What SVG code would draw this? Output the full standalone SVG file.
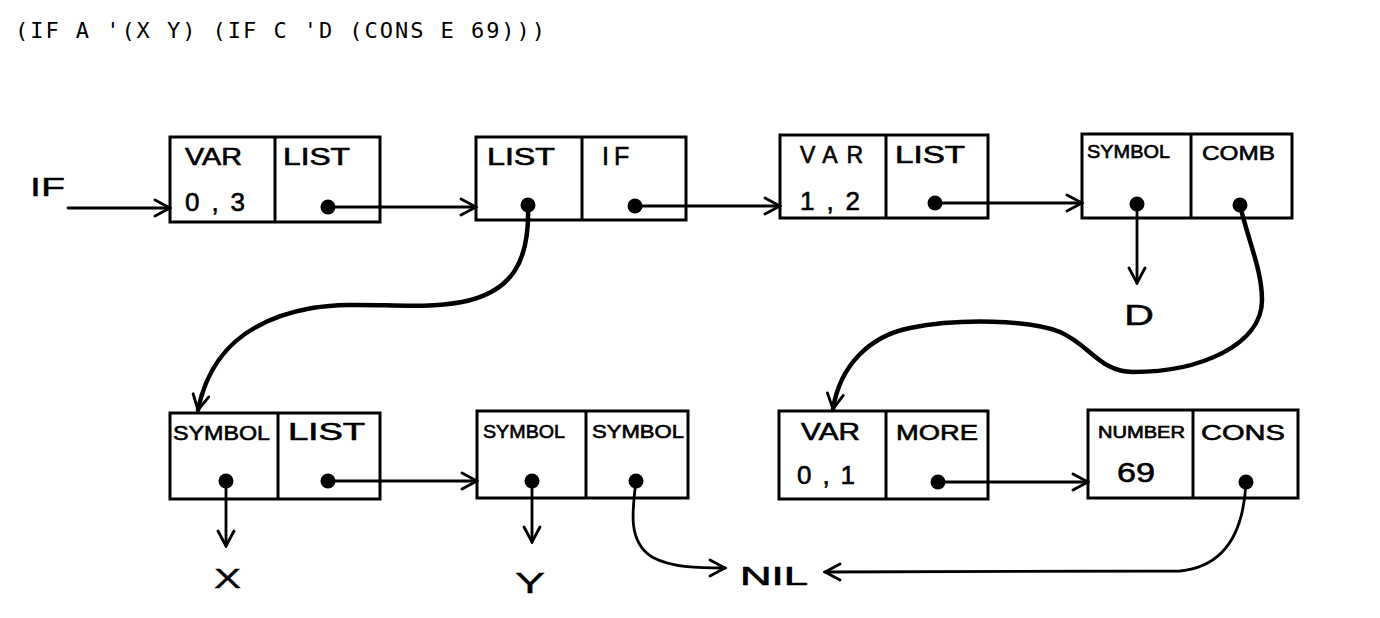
<svg xmlns="http://www.w3.org/2000/svg" width="1380" height="618" viewBox="0 0 1380 618">
<style>
.box{fill:#fff;stroke:#000;stroke-width:3}
.div{stroke:#000;stroke-width:3}
.lbl{font-family:"Liberation Sans",Arial,sans-serif;font-size:23px;fill:#000;stroke:#000;stroke-width:0.6}
.sm{font-size:18px}
.xs{font-size:16px}
.big{font-family:"Liberation Sans",Arial,sans-serif;font-size:30px;fill:#000;stroke:#000;stroke-width:0.4}
.title{font-family:"DejaVu Sans Mono","Liberation Mono",monospace;font-size:22px;fill:#000}
.ln{fill:none;stroke:#000;stroke-width:2.8;stroke-linecap:round}
.thick{fill:none;stroke:#000;stroke-width:4.5;stroke-linecap:round}
.dot{fill:#000}
</style>
<defs>
<marker id="ah" viewBox="0 0 20 20" refX="18" refY="10" markerWidth="20" markerHeight="20" markerUnits="userSpaceOnUse" orient="auto">
<path d="M3,2 L18,10 L3,18" fill="none" stroke="#000" stroke-width="2.8" stroke-linecap="round"/>
</marker>
</defs>
<rect width="1380" height="618" fill="#fff"/>
<text class="title" x="15" y="38" textLength="530" lengthAdjust="spacing">(IF A '(X Y) (IF C 'D (CONS E 69)))</text>

<g id="in-if">
<text class="big" x="30" y="196" textLength="35" lengthAdjust="spacingAndGlyphs" style="font-size:26px">IF</text>
</g>

<g id="n1">
<rect class="box" x="170" y="137" width="210" height="85"/>
<line class="div" x1="275" y1="137" x2="275" y2="222"/>
<text class="lbl" x="185" y="165" textLength="57" lengthAdjust="spacingAndGlyphs">VAR</text>
<text class="lbl" x="185" y="211" textLength="60" lengthAdjust="spacing" style="font-size:26px">0,3</text>
<text class="lbl" x="283" y="165" textLength="67" lengthAdjust="spacingAndGlyphs">LIST</text>
<circle class="dot" cx="328" cy="207" r="7.5"/>
</g>

<g id="n2">
<rect class="box" x="476" y="137" width="210" height="83"/>
<line class="div" x1="582" y1="137" x2="582" y2="220"/>
<text class="lbl" x="487" y="165" textLength="68" lengthAdjust="spacingAndGlyphs">LIST</text>
<text class="lbl" x="602" y="165" style="font-size:25px;letter-spacing:5px">IF</text>
<circle class="dot" cx="528" cy="205" r="7.5"/>
<circle class="dot" cx="635" cy="206" r="7.5"/>
</g>

<g id="n3">
<rect class="box" x="780" y="135" width="208" height="83"/>
<line class="div" x1="886" y1="135" x2="886" y2="218"/>
<text class="lbl" x="800" y="163" textLength="63" lengthAdjust="spacing">VAR</text>
<text class="lbl" x="800" y="210" textLength="60" lengthAdjust="spacing" style="font-size:26px">1,2</text>
<text class="lbl" x="895" y="163" textLength="70" lengthAdjust="spacingAndGlyphs">LIST</text>
<circle class="dot" cx="935" cy="203" r="7.5"/>
</g>

<g id="n4">
<rect class="box" x="1082" y="134" width="210" height="84"/>
<line class="div" x1="1191" y1="134" x2="1191" y2="218"/>
<text class="lbl sm" x="1087" y="158" textLength="83" lengthAdjust="spacingAndGlyphs">SYMBOL</text>
<text class="lbl" x="1202" y="160" textLength="73" lengthAdjust="spacingAndGlyphs" style="font-size:21px">COMB</text>
<circle class="dot" cx="1137" cy="204" r="7.5"/>
<circle class="dot" cx="1240" cy="205" r="7.5"/>
</g>

<g id="lbl-d">
<text class="big" x="1124" y="325" textLength="30" lengthAdjust="spacingAndGlyphs">D</text>
</g>

<g id="n5">
<rect class="box" x="170" y="413" width="210" height="86"/>
<line class="div" x1="278" y1="413" x2="278" y2="499"/>
<text class="lbl" x="173" y="440" textLength="97" lengthAdjust="spacingAndGlyphs" style="font-size:20px">SYMBOL</text>
<text class="lbl" x="288" y="440" textLength="77" lengthAdjust="spacingAndGlyphs">LIST</text>
<circle class="dot" cx="226" cy="481" r="7.5"/>
<circle class="dot" cx="328" cy="481" r="7.5"/>
</g>

<g id="lbl-x">
<text class="big" x="214" y="588" textLength="27" lengthAdjust="spacingAndGlyphs" style="font-size:27px">X</text>
</g>

<g id="n6">
<rect class="box" x="477" y="411" width="211" height="87"/>
<line class="div" x1="586" y1="411" x2="586" y2="498"/>
<text class="lbl sm" x="483" y="438" textLength="82" lengthAdjust="spacingAndGlyphs">SYMBOL</text>
<text class="lbl sm" x="592" y="438" textLength="92" lengthAdjust="spacingAndGlyphs">SYMBOL</text>
<circle class="dot" cx="532" cy="481" r="7.5"/>
<circle class="dot" cx="636" cy="481" r="7.5"/>
</g>

<g id="lbl-y">
<text class="big" x="515" y="593" textLength="30" lengthAdjust="spacingAndGlyphs">Y</text>
</g>

<g id="lbl-nil">
<text class="lbl" x="740" y="585" textLength="68" lengthAdjust="spacingAndGlyphs" style="font-size:25px">NIL</text>
</g>

<g id="n7">
<rect class="box" x="779" y="411" width="209" height="88"/>
<line class="div" x1="886" y1="411" x2="886" y2="499"/>
<text class="lbl" x="801" y="440" textLength="59" lengthAdjust="spacingAndGlyphs">VAR</text>
<text class="lbl" x="797" y="484" textLength="58" lengthAdjust="spacing" style="font-size:26px">0,1</text>
<text class="lbl" x="896" y="440" textLength="82" lengthAdjust="spacingAndGlyphs" style="font-size:22px">MORE</text>
<circle class="dot" cx="938" cy="482" r="7.5"/>
</g>

<g id="n8">
<rect class="box" x="1088" y="410" width="210" height="88"/>
<line class="div" x1="1193" y1="410" x2="1193" y2="498"/>
<text class="lbl xs" x="1098" y="438" textLength="87" lengthAdjust="spacingAndGlyphs">NUMBER</text>
<text class="lbl" x="1117" y="482" textLength="38" lengthAdjust="spacingAndGlyphs" style="font-size:28px">69</text>
<text class="lbl" x="1201" y="440" textLength="84" lengthAdjust="spacingAndGlyphs" style="font-size:22px">CONS</text>
<circle class="dot" cx="1246" cy="482" r="7.5"/>
</g>

<g id="connectors">
<path class="ln" d="M68,208 L170,208" marker-end="url(#ah)"/>
<path class="ln" d="M328,207 L476,207" marker-end="url(#ah)"/>
<path class="ln" d="M635,206 L780,206" marker-end="url(#ah)"/>
<path class="ln" d="M935,203 L1082,203" marker-end="url(#ah)"/>
<path class="ln" d="M1137,205 L1137,283" marker-end="url(#ah)"/>
<path class="thick" d="M528,205 C530,262 512,292 462,302 C412,311 362,300 312,308 C250,319 210,350 198,410" marker-end="url(#ah)"/>
<path class="thick" d="M1240,205 C1248,240 1262,270 1262,300 C1262,345 1200,372 1133,372 C1100,372 1090,345 1060,332 C1030,320 960,318 910,328 C870,336 840,365 833,409" marker-end="url(#ah)"/>
<path class="ln" d="M226,481 L226,546" marker-end="url(#ah)"/>
<path class="ln" d="M328,481 L477,481" marker-end="url(#ah)"/>
<path class="ln" d="M532,481 L532,542" marker-end="url(#ah)"/>
<path class="ln" d="M636,481 C632,512 628,542 652,557 C672,568 700,568 725,568" marker-end="url(#ah)"/>
<path class="ln" d="M938,482 L1088,482" marker-end="url(#ah)"/>
<path class="ln" d="M1246,482 C1244,525 1230,566 1180,571 L825,572" marker-end="url(#ah)"/>
</g>
</svg>
